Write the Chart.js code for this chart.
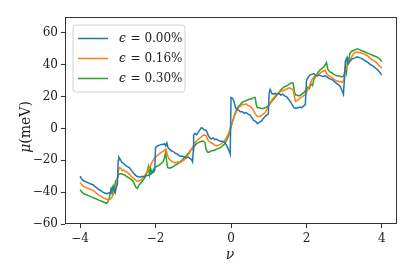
<!DOCTYPE html>
<html><head><meta charset="utf-8">
<script src="https://cdn.jsdelivr.net/npm/chart.js@4.4.0/dist/chart.umd.min.js"></script>
<style>html,body{margin:0;padding:0;background:#fff}#w{width:415px;height:277px}</style>
</head><body><div id="w"><canvas id="c" width="415" height="277"></canvas></div>
<script>
const seriesLabels = ["0.00%", "0.16%", "0.30%"];
const xTicks = [-4, -2, 0, 2, 4];
const yTicks = [-60, -40, -20, 0, 20, 40, 60];

const nuBlue = [-4.00,-3.95,-3.90,-3.85,-3.80,-3.75,-3.70,-3.65,-3.60,-3.55,-3.50,-3.45,-3.40,-3.35,-3.30,-3.25,-3.20,-3.17,-3.14,-3.10,-3.07,-3.04,-3.01,-2.99,-2.97,-2.93,-2.90,-2.85,-2.80,-2.75,-2.70,-2.65,-2.60,-2.55,-2.50,-2.45,-2.40,-2.35,-2.30,-2.25,-2.20,-2.15,-2.10,-2.05,-2.02,-2.00,-1.95,-1.90,-1.85,-1.80,-1.76,-1.73,-1.70,-1.67,-1.63,-1.58,-1.53,-1.48,-1.43,-1.38,-1.33,-1.28,-1.23,-1.18,-1.13,-1.08,-1.05,-1.02,-1.00,-0.99,-0.95,-0.91,-0.87,-0.83,-0.79,-0.75,-0.71,-0.67,-0.64,-0.60,-0.56,-0.52,-0.47,-0.43,-0.38,-0.33,-0.28,-0.23,-0.18,-0.13,-0.09,-0.05,-0.02,0.00,0.04,0.08,0.12,0.16,0.20,0.25,0.30,0.35,0.40,0.45,0.50,0.55,0.60,0.65,0.70,0.75,0.80,0.85,0.90,0.95,0.99,1.01,1.04,1.08,1.12,1.17,1.22,1.27,1.32,1.37,1.42,1.47,1.52,1.57,1.62,1.67,1.72,1.77,1.82,1.87,1.92,1.97,2.00,2.04,2.09,2.14,2.19,2.24,2.29,2.34,2.39,2.44,2.49,2.54,2.59,2.64,2.69,2.74,2.79,2.84,2.89,2.94,2.98,3.01,3.03,3.06,3.10,3.15,3.20,3.25,3.30,3.35,3.40,3.45,3.50,3.55,3.60,3.65,3.70,3.75,3.80,3.85,3.90,3.95,4.00];
const muBlue = [-30,-32,-33,-33.5,-34,-34.5,-35,-35.5,-36.5,-37.5,-38.5,-39,-40,-40.5,-41,-40.5,-40.5,-38,-37,-39,-40.5,-37,-35,-20,-18,-19.5,-21,-22,-23,-24,-24.5,-26,-27.5,-29,-30,-30.5,-30.5,-30,-30.5,-29.5,-29.5,-29,-28,-27.5,-26,-12,-11,-10.5,-10,-10,-9.5,-11,-9,-12,-13,-14,-14.5,-15.5,-16,-17,-17.5,-17.5,-18,-18.5,-18,-19,-19.5,-21,-14,-4,-3,-4,-2.5,-1,0.5,0,-1,-1,-2,-4.5,-6,-6.5,-6,-7,-6.8,-7.5,-8,-8,-8.5,-10,-12,-14,-16,19.5,19,17,13,12,11.5,10.5,10.5,9.5,10,9,8.5,7,5,4.5,3,4,4.5,6,7.5,8.5,9,22,24.5,22,21.5,22,21.5,22,21,21.5,20.5,20,18.5,17,15,13,12.5,13,13.5,13,14,15,30,32,33.5,34,34.5,33.5,33,33.5,33,32.5,33,32.5,31.5,31,30.5,29.5,28.5,27.5,26.5,24,21.5,32,42,44,40.5,42,43.5,44,44.5,45,44.5,44,43.5,42.5,42,41,40,39.5,38.5,37.5,36.5,35,33.5];

const nuOrange = [-4.00,-3.95,-3.90,-3.85,-3.80,-3.75,-3.70,-3.65,-3.60,-3.55,-3.50,-3.45,-3.40,-3.35,-3.30,-3.25,-3.20,-3.15,-3.10,-3.06,-3.02,-2.99,-2.96,-2.92,-2.88,-2.84,-2.80,-2.75,-2.70,-2.65,-2.60,-2.55,-2.50,-2.45,-2.40,-2.35,-2.30,-2.25,-2.20,-2.15,-2.10,-2.05,-2.00,-1.95,-1.90,-1.85,-1.80,-1.75,-1.72,-1.69,-1.65,-1.60,-1.55,-1.50,-1.45,-1.40,-1.35,-1.30,-1.25,-1.20,-1.15,-1.10,-1.05,-1.00,-0.95,-0.90,-0.85,-0.80,-0.75,-0.70,-0.66,-0.62,-0.58,-0.53,-0.48,-0.43,-0.38,-0.33,-0.28,-0.23,-0.18,-0.13,-0.08,-0.04,0.00,0.05,0.10,0.15,0.20,0.25,0.30,0.35,0.40,0.45,0.50,0.55,0.60,0.65,0.70,0.75,0.80,0.85,0.90,0.95,1.00,1.05,1.10,1.15,1.20,1.25,1.30,1.35,1.40,1.45,1.50,1.55,1.60,1.65,1.68,1.71,1.75,1.80,1.85,1.90,1.95,2.00,2.05,2.10,2.15,2.20,2.25,2.30,2.35,2.40,2.45,2.50,2.55,2.60,2.65,2.70,2.75,2.80,2.85,2.90,2.95,3.00,3.03,3.06,3.10,3.15,3.20,3.25,3.30,3.35,3.40,3.45,3.50,3.55,3.60,3.65,3.70,3.75,3.80,3.85,3.90,3.95,4.00];
const muOrange = [-34,-35.5,-36.5,-37,-37.5,-38,-38.5,-39,-40,-41,-42,-42.5,-43.5,-44,-44.5,-44.5,-44.5,-43,-40,-38,-33,-27,-24.5,-25,-26.5,-26,-27,-27.5,-28.5,-30,-31,-32,-33,-33,-32.5,-31.5,-30,-28,-26,-24,-21.5,-19.5,-18,-17,-16,-15,-14.5,-13.5,-13,-16,-19,-20,-21,-21.5,-21.5,-21,-21.5,-20.5,-20,-18.5,-17,-15.5,-13,-11,-9,-7.5,-6.5,-5.5,-4.5,-4,-4.5,-7,-8,-9,-9.5,-10.5,-11,-10.5,-10,-9,-8,-6,-4,-1.5,2,5,8.5,11,13,14,15,15,15.5,14.5,14,13,11,9,7.5,7.5,8,9,10,12,14,16.5,18.5,20,21.5,22.5,23,23.5,24,24.5,25,25.5,25,24,20,17,17.5,18.5,19.5,20,21,22.5,25,28,31,32.5,33.5,34,34.5,35.5,36,36.5,34,33,32.5,31.5,30.5,30,29.5,29.5,29,31,37,38,40,43,45,47,48,48,47.5,47.5,47,46.5,46,45,44,43,42.5,41.5,40,39,38];

const nuGreen = [-4.00,-3.95,-3.90,-3.85,-3.80,-3.75,-3.70,-3.65,-3.60,-3.55,-3.50,-3.45,-3.40,-3.35,-3.30,-3.26,-3.22,-3.18,-3.15,-3.12,-3.09,-3.06,-3.02,-2.98,-2.94,-2.90,-2.85,-2.80,-2.75,-2.70,-2.65,-2.60,-2.56,-2.52,-2.48,-2.44,-2.40,-2.35,-2.30,-2.26,-2.22,-2.19,-2.16,-2.13,-2.10,-2.06,-2.02,-1.98,-1.94,-1.90,-1.85,-1.80,-1.76,-1.73,-1.71,-1.68,-1.63,-1.58,-1.53,-1.48,-1.43,-1.38,-1.33,-1.28,-1.23,-1.18,-1.13,-1.08,-1.03,-0.98,-0.93,-0.88,-0.83,-0.78,-0.73,-0.69,-0.66,-0.62,-0.58,-0.53,-0.48,-0.43,-0.38,-0.33,-0.28,-0.23,-0.18,-0.13,-0.08,-0.04,0.00,0.05,0.10,0.15,0.20,0.25,0.30,0.35,0.40,0.45,0.50,0.55,0.60,0.64,0.67,0.70,0.75,0.80,0.85,0.90,0.95,1.00,1.05,1.10,1.15,1.20,1.25,1.30,1.35,1.40,1.45,1.50,1.55,1.60,1.65,1.68,1.71,1.75,1.80,1.85,1.90,1.95,2.00,2.04,2.08,2.12,2.16,2.20,2.25,2.30,2.35,2.40,2.45,2.50,2.53,2.57,2.62,2.67,2.72,2.77,2.82,2.87,2.92,2.97,3.00,3.03,3.06,3.09,3.12,3.15,3.20,3.25,3.30,3.35,3.40,3.45,3.50,3.55,3.60,3.65,3.70,3.75,3.80,3.85,3.90,3.95,4.00];
const muGreen = [-38.5,-40,-41,-41.5,-42,-42.5,-43,-43.5,-44,-44.5,-45,-45.5,-46,-46.5,-47,-46,-43,-38,-41,-36,-38,-33,-32,-29,-28.5,-28.5,-29,-29.5,-30.5,-31,-32,-33,-35,-37,-37.5,-35.5,-34.5,-33,-31.5,-30,-27,-24,-29,-25,-28,-26,-24.5,-24,-23.5,-23,-22,-21,-18,-15,-20,-24.5,-25,-24.5,-24,-23,-22.5,-21.5,-20.5,-19.5,-18,-17,-15.5,-14,-13,-11.5,-10,-9,-8.5,-8,-8,-9,-13,-15,-15,-14,-14,-13.5,-13,-12.5,-12,-11,-10,-8,-5.5,-3,1,5,9,12,14,15,16.5,17,17.5,18,18.5,18.5,19.5,19.5,15,13,13,12.5,12.5,13,13.5,14.5,16,17.5,19,20.5,22,23.5,25,26,26.5,27,28,28.5,28.5,23,21,21,20.5,21,22,23,25,26,25,28,27,31,33,35,36.5,37.5,38.5,40,41.5,37,35.5,35,34,33.5,33,33,32.5,32.5,34,38,35,44,42,47,48.5,49,49.5,50,49.5,49,48.5,48,47.5,47,46.5,46,45.5,45,44.5,43.5,42];

const colors = ['#1f77b4', '#ff7f0e', '#2ca02c'];
const pts = (xs, ys) => xs.map((x, i) => ({x: x, y: ys[i]}));
const SERIF = "'DejaVu Serif', 'Liberation Serif', serif";

const frame = {
  id: 'frame',
  afterDatasetsDraw(chart) {
    const {ctx, chartArea: a} = chart;
    ctx.save();
    ctx.strokeStyle = '#333';
    ctx.lineWidth = 1;
    ctx.strokeRect(Math.round(a.left) + 0.5, Math.round(a.top) + 0.5, Math.round(a.right - a.left) - 1, Math.round(a.bottom - a.top) - 1);
    // legend
    const bx = 73, by = 25, bw = 112, bh = 67, r = 3;
    ctx.beginPath();
    ctx.moveTo(bx + r, by); ctx.lineTo(bx + bw - r, by); ctx.quadraticCurveTo(bx + bw, by, bx + bw, by + r);
    ctx.lineTo(bx + bw, by + bh - r); ctx.quadraticCurveTo(bx + bw, by + bh, bx + bw - r, by + bh);
    ctx.lineTo(bx + r, by + bh); ctx.quadraticCurveTo(bx, by + bh, bx, by + bh - r);
    ctx.lineTo(bx, by + r); ctx.quadraticCurveTo(bx, by, bx + r, by);
    ctx.closePath();
    ctx.fillStyle = 'rgba(255,255,255,0.8)';
    ctx.fill();
    ctx.strokeStyle = '#d0d0d0';
    ctx.lineWidth = 1;
    ctx.stroke();
    chart.data.datasets.forEach((ds, i) => {
      const y = 38.5 + i * 20;
      ctx.beginPath();
      ctx.moveTo(78, y); ctx.lineTo(108, y);
      ctx.strokeStyle = ds.borderColor; ctx.lineWidth = 1.5; ctx.stroke();
      ctx.fillStyle = '#222';
      ctx.textBaseline = 'middle';
      ctx.font = "italic 12px " + SERIF;
      ctx.fillText('\u03F5', 119, y);
      const w = ctx.measureText('\u03F5').width;
      ctx.font = "12px " + SERIF;
      ctx.fillText(' = ' + seriesLabels[i], 119 + w + 1, y);
    });
    // axis titles
    ctx.fillStyle = '#222';
    ctx.textAlign = 'center';
    ctx.textBaseline = 'middle';
    ctx.font = "italic 14px " + SERIF;
    ctx.fillText('\u03BD', 230, 255);
    ctx.save();
    ctx.translate(26, 127);
    ctx.rotate(-Math.PI / 2);
    ctx.font = "italic 14px " + SERIF;
    const m = ctx.measureText('\u03BC').width;
    ctx.font = "14px " + SERIF;
    const rest = ctx.measureText('(meV)').width;
    const start = -(m + rest) / 2;
    ctx.textAlign = 'left';
    ctx.font = "italic 14px " + SERIF;
    ctx.fillText('\u03BC', start, 0);
    ctx.font = "14px " + SERIF;
    ctx.fillText('(meV)', start + m, 0);
    ctx.restore();
    ctx.restore();
  }
};

new Chart(document.getElementById('c'), {
  type: 'line',
  data: {
    datasets: [
      {label: seriesLabels[0], data: pts(nuBlue, muBlue), borderColor: colors[0]},
      {label: seriesLabels[1], data: pts(nuOrange, muOrange), borderColor: colors[1]},
      {label: seriesLabels[2], data: pts(nuGreen, muGreen), borderColor: colors[2]}
    ]
  },
  options: {
    responsive: false,
    animation: false,
    events: [],
    devicePixelRatio: 1,
    layout: {padding: {left: 0, right: 18, top: 17, bottom: 0}},
    elements: {point: {radius: 0}, line: {borderWidth: 1.5, tension: 0, fill: false}},
    plugins: {legend: {display: false}, tooltip: {enabled: false}},
    scales: {
      x: {
        type: 'linear', min: -4.4, max: 4.4,
        afterBuildTicks: s => { s.ticks = xTicks.map(v => ({value: v})); },
        afterFit: s => { s.height = 53; },
        grid: {drawOnChartArea: false, drawTicks: true, tickLength: 4, color: '#333'},
        border: {display: false},
        ticks: {color: '#222', padding: 4, maxRotation: 0, font: {family: SERIF, size: 12},
          callback: v => (v < 0 ? '\u2212' + Math.abs(v) : '' + v)}
      },
      y: {
        type: 'linear', min: -60, max: 70,
        afterBuildTicks: s => { s.ticks = yTicks.map(v => ({value: v})); },
        afterFit: s => { s.width = 65; },
        grid: {drawOnChartArea: false, drawTicks: true, tickLength: 4, color: '#333'},
        border: {display: false},
        ticks: {color: '#222', padding: 3, font: {family: SERIF, size: 12},
          callback: v => (v < 0 ? '\u2212' + Math.abs(v) : '' + v)}
      }
    }
  },
  plugins: [frame]
});
</script></body></html>
